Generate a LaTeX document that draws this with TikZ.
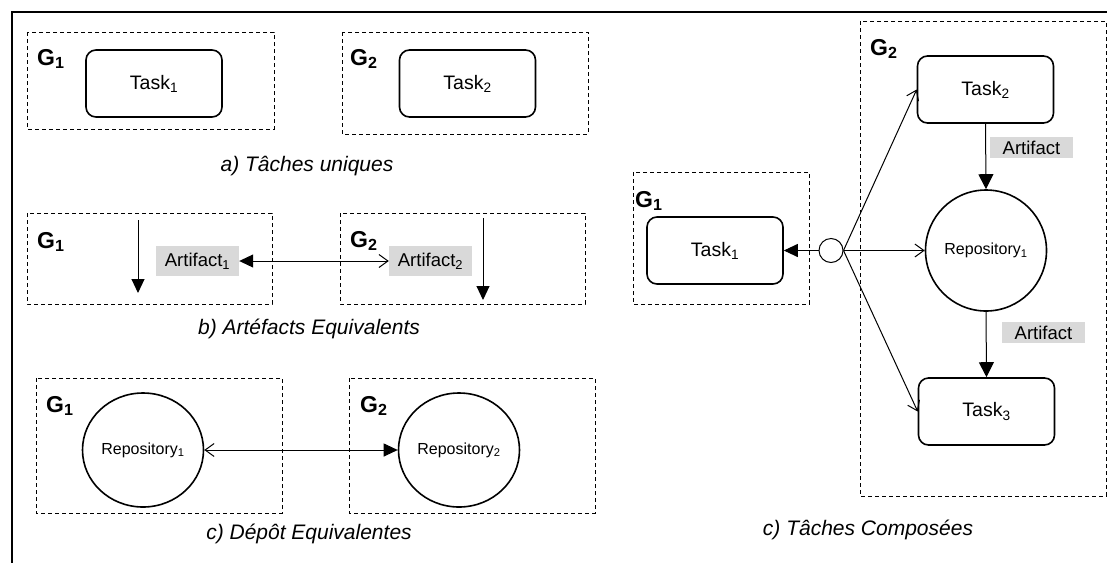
\documentclass[tikz,border=0pt]{standalone}
\usepackage{fontspec}
\setmainfont{Liberation Sans}
\usetikzlibrary{arrows.meta,shapes.geometric}
\definecolor{artgray}{HTML}{D9D9D9}
\tikzset{
  tri/.tip={Triangle[length=14pt,width=13pt]},
  barb/.tip={Straight Barb[length=9pt,width=13pt]},
  grp/.style={draw, dash pattern=on 4pt off 3pt, line width=1pt},
  task/.style={draw, rounded corners=10pt, line width=1.6pt, minimum width=136pt, minimum height=67pt, inner sep=0pt, font=\fontsize{19.5}{22}\selectfont},
  art/.style={fill=artgray, minimum width=83pt, minimum height=30pt, inner sep=0pt, font=\fontsize{18.5}{22}\selectfont},
  repo/.style={draw, ellipse, line width=1.6pt, minimum width=121pt, minimum height=114pt, inner sep=0pt, font=\fontsize{16}{19}\selectfont},
  glabel/.style={anchor=base west, inner sep=0pt, font=\fontsize{23}{27}\selectfont\bfseries},
  captext/.style={anchor=base, inner sep=0pt, font=\fontsize{21}{25}\selectfont\itshape},
  link/.style={line width=1pt},
}
\begin{document}
\begin{tikzpicture}[x=1pt,y=-1pt]
\useasboundingbox (0,0) rectangle (1107,563);
\draw[line width=2pt] (1107,11.5) -- (11.5,11.5) -- (11.5,563);

% ---------- a) Taches uniques
\draw[grp] (27,32) rectangle (274,129);
\node[glabel] (gaA) at (37,65) {G\textsubscript{1}};
\node[task] (taA) at (154,83.5) {Task\textsubscript{1}};
\draw[grp] (342,32) rectangle (588,134);
\node[glabel] (gaB) at (350,65) {G\textsubscript{2}};
\node[task] (taB) at (467.5,83.5) {Task\textsubscript{2}};
\node[captext] (capa) at (307,171) {a) Tâches uniques};

% ---------- b) Artefacts Equivalents
\draw[grp] (27,213) rectangle (272,304);
\node[glabel] (gbA) at (37,248) {G\textsubscript{1}};
\coordinate (bAs) at (138,220);
\coordinate (bAe) at (138,293);
\draw[link,-tri] (bAs) -- (bAe);
\node[art] (artA) at (197.5,261) {Artifact\textsubscript{1}};
\draw[grp] (340,213) rectangle (585,304);
\node[glabel] (gbB) at (350,247) {G\textsubscript{2}};
\node[art] (artB) at (430.5,261) {Artifact\textsubscript{2}};
\coordinate (bBs) at (483,218);
\coordinate (bBe) at (483,300);
\draw[link,-tri] (bBs) -- (bBe);
\draw[link,tri-barb] (artA.east) -- (artB.west);
\node[captext] (capb) at (309,334) {b) Artéfacts Equivalents};

% ---------- c) Depot Equivalentes
\draw[grp] (36,378) rectangle (282,513);
\node[glabel] (gcA) at (46,412) {G\textsubscript{1}};
\node[repo] (rA) at (143,450) {Repository\textsubscript{1}};
\draw[grp] (349,378) rectangle (595,513);
\node[glabel] (gcB) at (360,412) {G\textsubscript{2}};
\node[repo] (rB) at (459,450) {Repository\textsubscript{2}};
\draw[link,barb-tri] (rA.east) -- (rB.west);
\node[captext] (capc) at (309,539) {c) Dépôt Equivalentes};

% ---------- c) Taches Composees
\draw[grp] (633,172) rectangle (809,304);
\node[glabel] (gdA) at (635,207) {G\textsubscript{1}};
\node[task] (tdA) at (715,250.5) {Task\textsubscript{1}};
\draw[grp] (860,21) rectangle (1106,496);
\node[glabel] (gdB) at (870,55) {G\textsubscript{2}};
\node[task] (tdB) at (985.5,89.5) {Task\textsubscript{2}};
\node[repo, minimum width=121pt, minimum height=121pt] (rd) at (986,250.5) {Repository\textsubscript{1}};
\node[task] (tdC) at (986.5,411.5) {Task\textsubscript{3}};
\node[art, minimum height=21pt] (artC) at (1031.5,147.5) {Artifact};
\node[art, minimum height=21pt] (artD) at (1043.5,332.5) {Artifact};
\node[draw, circle, line width=1pt, minimum size=24pt, inner sep=0pt] (jn) at (831,250.5) {};
\draw[link,-tri] (jn.west) -- (tdA.east);
\draw[link,-barb] (jn.east) -- (tdB.west);
\draw[link,-barb] (jn.east) -- (rd.west);
\draw[link,-barb] (jn.east) -- (tdC.west);
\draw[link,-{Triangle[length=15pt,width=15pt]}] (tdB.south) -- (rd.north);
\draw[link,-{Triangle[length=15pt,width=15pt]}] (rd.south) -- (tdC.north);
\node[captext] (capd) at (868,535) {c) Tâches Composées};
\end{tikzpicture}
\end{document}
